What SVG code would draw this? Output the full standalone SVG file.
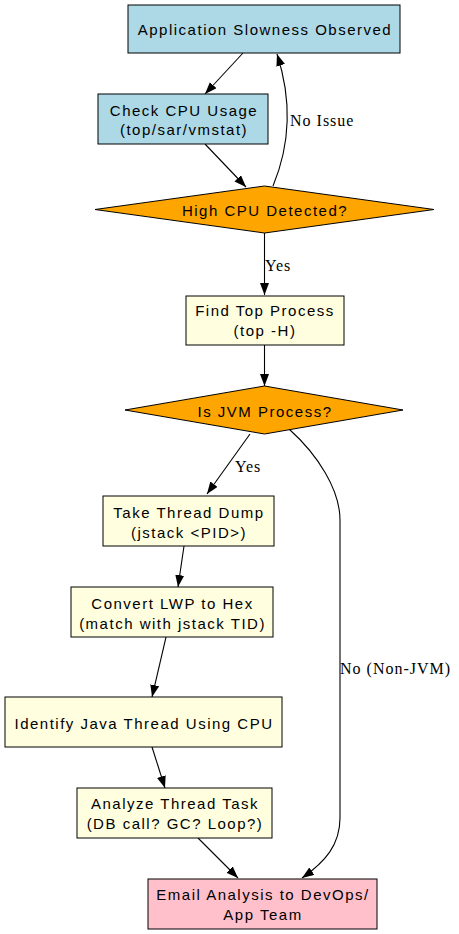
<svg xmlns="http://www.w3.org/2000/svg" width="459" height="934" viewBox="0 0 459 934">
<style>
.n{stroke:#000;stroke-width:1}
.blue{fill:#ADD8E6}
.yel{fill:#FFFFE0}
.org{fill:#FFA500}
.pink{fill:#FFC0CB}
.t{font-family:"Liberation Sans",Arial,sans-serif;font-size:15px;letter-spacing:1.5px;text-anchor:middle;fill:#000}
.e{fill:none;stroke:#000;stroke-width:1.1;marker-end:url(#ah)}
.l{font-family:"Liberation Serif","Times New Roman",serif;font-size:16px;letter-spacing:1px;fill:#000}
</style>
<defs>
<marker id="ah" markerUnits="userSpaceOnUse" markerWidth="13" markerHeight="10" refX="12" refY="4.5" orient="auto">
<path d="M0,0 L12,4.5 L0,9 z" fill="#000"/>
</marker>
</defs>
<rect width="459" height="934" fill="#fff"/>
<g id="edges">
<path class="e" d="M243,53 L205,94"/>
<path class="e" d="M205,144 L246,187"/>
<path class="e" d="M273,186 C290,145 292,100 277,54"/>
<text class="l" x="290" y="126">No Issue</text>
<path class="e" d="M264.5,233 L264.5,295"/>
<text class="l" x="265" y="271">Yes</text>
<path class="e" d="M264.5,345 L264.5,386"/>
<path class="e" d="M250,434 L207,494"/>
<text class="l" x="235" y="472">Yes</text>
<path class="e" d="M289,429 C318,455 340,490 340,520 L340,818 C340,845 325,862 302,878"/>
<text class="l" x="340" y="674">No (Non-JVM)</text>
<path class="e" d="M184,546 L178,587"/>
<path class="e" d="M166,637 L152,697"/>
<path class="e" d="M152,747 L165,788"/>
<path class="e" d="M198,838 L238,878"/>
</g>
<g id="n1">
<rect class="n blue" x="128" y="5" width="272" height="48"/>
<text class="t" x="265" y="35">Application Slowness Observed</text>
</g>
<g id="n2">
<rect class="n blue" x="98" y="94" width="170" height="50"/>
<text class="t" x="184" y="115.5">Check CPU Usage</text>
<text class="t" x="184" y="135">(top/sar/vmstat)</text>
</g>
<g id="n3">
<polygon class="n org" points="264.5,186 434,209.5 264.5,233 95,209.5"/>
<text class="t" x="265" y="216">High CPU Detected?</text>
</g>
<g id="n4">
<rect class="n yel" x="186" y="296" width="158" height="49"/>
<text class="t" x="265" y="316">Find Top Process</text>
<text class="t" x="265" y="336">(top -H)</text>
</g>
<g id="n5">
<polygon class="n org" points="264.5,386 403,410 264.5,434 125,410"/>
<text class="t" x="265" y="416.5">Is JVM Process?</text>
</g>
<g id="n6">
<rect class="n yel" x="103" y="496" width="171" height="50"/>
<text class="t" x="189" y="517.5">Take Thread Dump</text>
<text class="t" x="189" y="537.5">(jstack &lt;PID&gt;)</text>
</g>
<g id="n7">
<rect class="n yel" x="71" y="587" width="202" height="50"/>
<text class="t" x="172.5" y="608.5">Convert LWP to Hex</text>
<text class="t" x="172.5" y="628.5">(match with jstack TID)</text>
</g>
<g id="n8">
<rect class="n yel" x="5" y="697" width="277" height="50"/>
<text class="t" x="144" y="729">Identify Java Thread Using CPU</text>
</g>
<g id="n9">
<rect class="n yel" x="77" y="788" width="195" height="50"/>
<text class="t" x="175" y="809">Analyze Thread Task</text>
<text class="t" x="175" y="829">(DB call? GC? Loop?)</text>
</g>
<g id="n10">
<rect class="n pink" x="148" y="879" width="229" height="50"/>
<text class="t" x="263" y="900">Email Analysis to DevOps/</text>
<text class="t" x="263" y="920">App Team</text>
</g>
</svg>
